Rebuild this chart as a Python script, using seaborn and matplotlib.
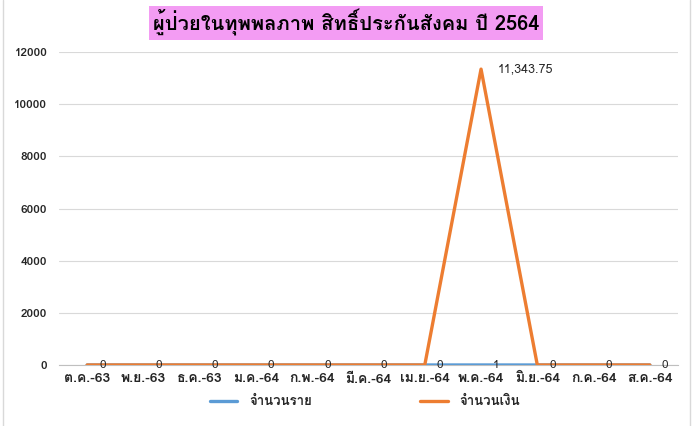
import matplotlib
matplotlib.use("Agg")
import matplotlib.pyplot as plt
from matplotlib.lines import Line2D
import seaborn as sns
import pandas as pd

months = ["ต.ค.-63", "พ.ย.-63", "ธ.ค.-63", "ม.ค.-64", "ก.พ.-64", "มี.ค.-64",
          "เม.ย.-64", "พ.ค.-64", "มิ.ย.-64", "ก.ค.-64", "ส.ค.-64"]
cases = [0, 0, 0, 0, 0, 0, 0, 1, 0, 0, 0]
amount = [0, 0, 0, 0, 0, 0, 0, 11343.75, 0, 0, 0]
series_names = ["จำนวนราย", "จำนวนเงิน"]
title = "ผู้ป่วยในทุพพลภาพ สิทธิ์ประกันสังคม ปี 2564"
yticks = [0, 2000, 4000, 6000, 8000, 10000, 12000]
colors = ["#5B9BD5", "#ED7D31"]

sns.set_style("white")
plt.rcParams["font.family"] = ["Loma", "DejaVu Sans"]

df = pd.DataFrame({
    "month": months * 2,
    "value": cases + amount,
    "series": [series_names[0]] * len(months) + [series_names[1]] * len(months),
})

fig = plt.figure(figsize=(6.93, 4.26), dpi=100)
ax = fig.add_axes([59 / 693, 1 - 365 / 426, 619 / 693, 313 / 426])

sns.lineplot(data=df, x="month", y="value", hue="series", palette=colors,
             sort=False, linewidth=2.4, ax=ax, legend=False)

ax.set_xlim(-0.5, len(months) - 0.5)
ax.set_ylim(0, 12000)
ax.set_yticks(yticks)
ax.set_yticklabels([str(v) for v in yticks], fontsize=8.5, fontweight="bold",
                   color="#262626")
ax.set_xticks(range(len(months)))
ax.set_xticklabels(months, fontsize=10, fontweight="bold", color="#262626")
ax.set_xticks([i - 0.5 for i in range(len(months) + 1)], minor=True)
ax.tick_params(axis="x", which="major", length=0, pad=6)
ax.tick_params(axis="x", which="minor", length=5, color="#BFBFBF", width=0.8)
ax.tick_params(axis="y", length=0, pad=8.5)
ax.grid(axis="y", color="#D9D9D9", linewidth=0.8)
ax.set_axisbelow(True)
for s in ["top", "right", "left"]:
    ax.spines[s].set_visible(False)
ax.spines["bottom"].set_color("#BFBFBF")
ax.spines["bottom"].set_linewidth(0.8)
ax.set_xlabel("")
ax.set_ylabel("")

# blue line under orange
lines = ax.get_lines()
if len(lines) >= 2:
    lines[0].set_zorder(3)
    lines[1].set_zorder(4)

# data labels (positioned right of the point)
for i, v in enumerate(cases):
    ax.annotate(f"{v:g}", (i, v), xytext=(11, 0), textcoords="offset points",
                ha="center", va="center", fontsize=8.5, color="#262626", zorder=5)
peak_i = max(range(len(amount)), key=lambda k: amount[k])
ax.annotate(f"{amount[peak_i]:,.2f}", (peak_i, amount[peak_i]), xytext=(12, 0),
            textcoords="offset points", ha="left", va="center", fontsize=9,
            color="#262626", zorder=5)

# title with pink background
fig.text(346 / 693, 1 - 23 / 426, title, ha="center", va="center", fontsize=14.5,
         fontweight="bold", color="black",
         bbox=dict(facecolor="#F39CF3", edgecolor="none", pad=2.5))

# legend
handles = [Line2D([], [], color=c, linewidth=2.4) for c in colors]
fig.legend(handles, series_names, loc="center", bbox_to_anchor=(365 / 693, 1 - 402 / 426),
           ncol=2, frameon=False, prop={"size": 9.5, "weight": "bold"},
           handlelength=2.1, handletextpad=0.9, columnspacing=8.2)

# chart border
fig.add_artist(Line2D([3 / 693, 3 / 693], [0, 1], color="#D9D9D9", linewidth=1,
                      transform=fig.transFigure))
fig.add_artist(Line2D([690 / 693, 690 / 693], [0, 1], color="#D9D9D9", linewidth=1,
                      transform=fig.transFigure))

fig.savefig("out.png", dpi=100)
